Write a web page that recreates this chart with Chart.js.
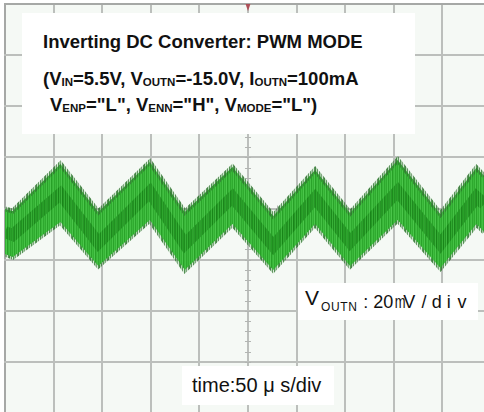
<!DOCTYPE html>
<html>
<head>
<meta charset="utf-8">
<script src="https://cdn.jsdelivr.net/npm/chart.js@4"></script>
<style>
  html, body { margin: 0; padding: 0; background: #ffffff; overflow: hidden; }
  #wrap { position: relative; width: 484px; height: 412px; }
  #wrap canvas { position: absolute; left: 0; top: 0; }
  .box { position: absolute; background: #ffffff; }
  .t { position: absolute; white-space: nowrap; font-family: "Liberation Sans", Arial, sans-serif; color: #111; }
  .b { font-weight: bold; font-size: 18.5px; line-height: 18.5px; }
  .b sub { font-size: 11.5px; vertical-align: -1px; line-height: 0; }
  .ch { position: absolute; width: 12px; text-align: center; font-size: 18px; line-height: 18px; top: 292.8px; color: #111;
        font-family: "Liberation Sans", Arial, sans-serif; }
</style>
</head>
<body>
<div id="wrap">
  <canvas id="c" width="484" height="412"></canvas>
  <div class="box" style="left:22px; top:13px; width:393px; height:121px;"></div>
  <div class="t b" style="left:43px; top:32.5px;">Inverting DC Converter: PWM MODE</div>
  <div class="t b" style="left:43px; top:69.5px;">(V<sub>IN</sub>=5.5V, V<sub>OUTN</sub>=-15.0V, I<sub>OUTN</sub>=100mA</div>
  <div class="t b" style="left:50px; top:95.5px;">V<sub>ENP</sub>="L", V<sub>ENN</sub>="H", V<sub>MODE</sub>="L")</div>

  <div class="box" style="left:298px; top:283px; width:180px; height:37px;"></div>
  <div class="t" style="left:305px; top:287px; font-size:21px; line-height:21px;">V</div>
  <div class="t" style="left:321px; top:301px; font-size:12px; line-height:12px; letter-spacing:0.6px;">OUTN</div>

  <div class="box" style="left:182px; top:366px; width:152px; height:39px;"></div>
  <div class="t" style="left:192px; top:375px; font-size:20px; line-height:20px;">time:50 μ s/div</div>
</div>
<script>
// ---- data (time in µs, voltage in mV, AC-coupled) ----
const TIME_US   = [0, 8, 57, 96, 149, 185, 234, 276, 319, 355, 404, 448, 485, 493];
const UPPER_MV  = [-0.2, -1.0, 17.4, -1.4, 18.2, -1.4, 16.2, -2.9, 15.1, -1.8, 19.0, -2.2, 15.9, 12.7];
const LOWER_MV  = [-17.8, -19.0, -5.3, -22.5, -4.5, -24.1, -6.1, -24.1, -6.1, -22.5, -4.5, -23.3, -6.1, -9.2];
const CENTER_MV = [-9.2, -10.4, 5.7, -13.5, 6.5, -13.9, 4.5, -14.7, 4.1, -13.1, 6.8, -13.9, 4.5, 1.8];
const X_TICKS = [0, 50, 100, 150, 200, 250, 300, 350, 400, 450];
const Y_TICKS = [-60, -40, -20, 0, 20, 40, 60, 80];
const X_MIN = 0, X_MAX = 492.8, Y_MIN = -79.6, Y_MAX = 80;
const SCALE_CHARS = [":", "2", "0", "m", "V", "/", "d", "i", "v"];
const SCALE_CHAR_X = [365.7, 378.3, 388.3, 399, 409.3, 424, 436.7, 448.7, 462];

const wrap = document.getElementById('wrap');
SCALE_CHARS.forEach((c, i) => {
  const s = document.createElement('span');
  s.className = 'ch';
  s.textContent = c;
  s.style.left = (SCALE_CHAR_X[i] - 6) + 'px';
  if (c === 'm') s.style.transform = 'scaleX(0.72)';
  wrap.appendChild(s);
});

function stripes(colors, h) {
  const c = document.createElement('canvas');
  c.width = colors.length; c.height = h || 4;
  const g = c.getContext('2d');
  colors.forEach((col, i) => { g.fillStyle = col; g.fillRect(i, 0, 1, c.height); });
  return g.createPattern(c, 'repeat');
}
const ctx = document.getElementById('c').getContext('2d');
const bandFill = stripes(['#3ab83a','#2fab2f','#46c246','#2aa32a','#3fbd3f','#33b133','#4bc54b','#27a027','#38b538','#42bf42','#2ea82e']);
const coreFill = stripes(['rgba(20,125,20,0.55)','rgba(30,140,30,0.35)','rgba(15,115,15,0.6)','rgba(30,140,30,0.3)','rgba(20,120,20,0.5)','rgba(35,150,35,0.3)','rgba(15,110,15,0.55)']);
const edgeFill = stripes(['rgba(50,120,50,0.9)','rgba(60,150,60,0.35)','rgba(45,115,45,0.75)','rgba(70,160,70,0.15)','rgba(55,125,55,0.85)','rgba(60,140,60,0.45)','rgba(45,110,45,0.6)','rgba(70,160,70,0.2)','rgba(50,120,50,0.8)']);

const pts = arr => TIME_US.map((t, i) => ({ x: t, y: arr[i] }));

const scopePlugin = {
  id: 'scope',
  beforeDraw(chart) {
    const { ctx, chartArea: a } = chart;
    ctx.save();
    ctx.fillStyle = '#f5f9f5';
    ctx.fillRect(a.left, a.top, a.right - a.left, a.bottom - a.top);
    ctx.restore();
  },
  beforeDatasetsDraw(chart) {
    const { ctx, chartArea: a, scales: { x, y } } = chart;
    ctx.save();
    ctx.lineWidth = 2;
    for (let i = 0; i < X_TICKS.length; i++) {
      const px = Math.round(x.getPixelForValue(X_TICKS[i]));
      ctx.strokeStyle = i === 0 ? '#a6a8a6' : '#bcbfbc';
      ctx.beginPath(); ctx.moveTo(px, a.top); ctx.lineTo(px, a.bottom); ctx.stroke();
    }
    for (let i = 0; i < Y_TICKS.length; i++) {
      const v = Y_TICKS[i];
      const py = Math.round(y.getPixelForValue(v));
      ctx.strokeStyle = v === Y_MAX ? '#a6a8a6' : '#bcbfbc';
      ctx.beginPath(); ctx.moveTo(a.left - 1, py); ctx.lineTo(a.right, py); ctx.stroke();
    }
    // minor ticks on the centre cross
    ctx.strokeStyle = '#b2b5b2';
    ctx.lineWidth = 1;
    const cx = x.getPixelForValue(250), cy = y.getPixelForValue(0);
    ctx.beginPath();
    for (let v = -76; v <= Y_MAX; v += 4) {
      const py = Math.round(y.getPixelForValue(v)) + 0.5;
      ctx.moveTo(cx - 3, py); ctx.lineTo(cx + 3, py);
    }
    for (let t = 0; t <= X_MAX; t += 10) {
      const px = Math.round(x.getPixelForValue(t)) + 0.5;
      ctx.moveTo(px, cy - 3); ctx.lineTo(px, cy + 3);
    }
    ctx.stroke();
    ctx.restore();
  },
  afterDraw(chart) {
    const { ctx, scales: { x, y } } = chart;
    const px = x.getPixelForValue(250), py = y.getPixelForValue(Y_MAX);
    ctx.save();
    ctx.fillStyle = 'rgba(170,60,70,0.85)';
    ctx.beginPath();
    ctx.moveTo(px - 2.5, py); ctx.lineTo(px + 2.5, py); ctx.lineTo(px, py + 7);
    ctx.closePath(); ctx.fill();
    ctx.restore();
  }
};

new Chart(ctx, {
  type: 'line',
  data: {
    datasets: [
      { label: 'upper', data: pts(UPPER_MV), borderColor: edgeFill, borderWidth: 5,
        backgroundColor: bandFill, fill: '+1', pointRadius: 0, tension: 0, order: 2 },
      { label: 'lower', data: pts(LOWER_MV), borderColor: edgeFill, borderWidth: 5,
        fill: false, pointRadius: 0, tension: 0, order: 2 },
      { label: 'center', data: pts(CENTER_MV), borderColor: coreFill, borderWidth: 12,
        fill: false, pointRadius: 0, tension: 0, order: 1 }
    ]
  },
  options: {
    responsive: false,
    animation: false,
    events: [],
    layout: { padding: { left: 5, top: 4, right: 0, bottom: 0 } },
    plugins: { legend: { display: false }, tooltip: { enabled: false } },
    scales: {
      x: {
        type: 'linear', min: X_MIN, max: X_MAX,
        afterBuildTicks: s => { s.ticks = X_TICKS.map(v => ({ value: v })); },
        ticks: { display: false },
        grid: { display: false, drawTicks: false },
        border: { display: false }
      },
      y: {
        type: 'linear', min: Y_MIN, max: Y_MAX,
        afterBuildTicks: s => { s.ticks = Y_TICKS.map(v => ({ value: v })); },
        ticks: { display: false },
        grid: { display: false, drawTicks: false },
        border: { display: false }
      }
    }
  },
  plugins: [scopePlugin]
});
</script>
</body>
</html>
